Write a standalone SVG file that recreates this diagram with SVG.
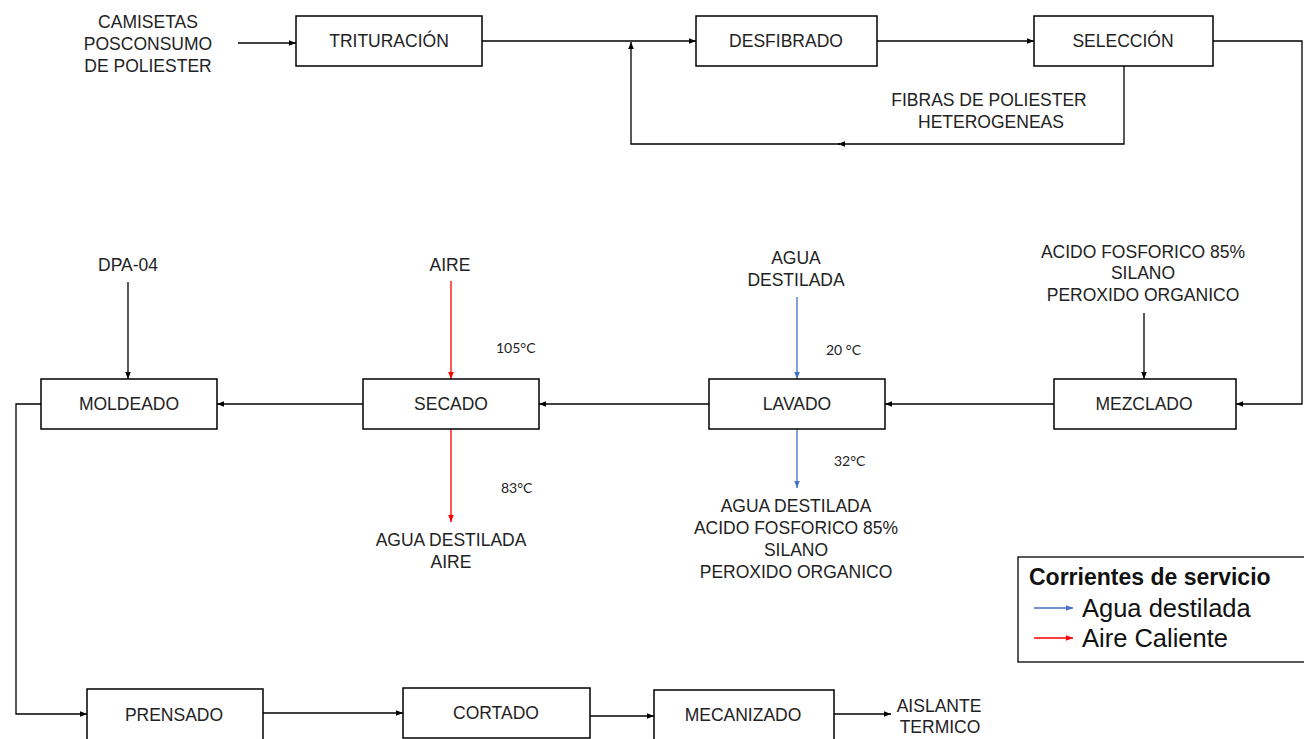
<svg xmlns="http://www.w3.org/2000/svg" width="1304" height="739" viewBox="0 0 1304 739">
<style>
.box{fill:#fff;stroke:#000;stroke-width:1.5}
.t{font-family:"Liberation Sans",Arial,sans-serif;font-size:17.5px;fill:#222;text-anchor:middle;dominant-baseline:central}
.tmp{font-family:Lato,"Liberation Sans",sans-serif;font-size:14px;fill:#222;dominant-baseline:central}
.k{fill:none;stroke:#000;stroke-width:1.3}
.r{fill:none;stroke:#ff0000;stroke-width:1.3}
.b{fill:none;stroke:#4472c4;stroke-width:1.3}
.lg{font-family:"Liberation Sans",Arial,sans-serif;fill:#111;dominant-baseline:central}
</style>
<defs>
<marker id="ak" viewBox="0 0 10 10" refX="10" refY="5" markerWidth="7" markerHeight="7" orient="auto" markerUnits="userSpaceOnUse"><path d="M0,1 L10,5 L0,9 z" fill="#000"/></marker>
<marker id="ar" viewBox="0 0 10 10" refX="10" refY="5" markerWidth="7" markerHeight="7" orient="auto" markerUnits="userSpaceOnUse"><path d="M0,1 L10,5 L0,9 z" fill="#ff0000"/></marker>
<marker id="ab" viewBox="0 0 10 10" refX="10" refY="5" markerWidth="7" markerHeight="7" orient="auto" markerUnits="userSpaceOnUse"><path d="M0,1 L10,5 L0,9 z" fill="#4472c4"/></marker>
</defs>

<g id="connectors">
<path class="k" d="M238,43 H296" marker-end="url(#ak)"/>
<path class="k" d="M482,41 H696" marker-end="url(#ak)"/>
<path class="k" d="M877,41 H1034" marker-end="url(#ak)"/>
<path class="k" d="M1213,41 H1302 V404 H1236" marker-end="url(#ak)"/>
<path class="k" d="M1124,66 V144 H838" marker-end="url(#ak)"/>
<path class="k" d="M840,144 H631 V42" marker-end="url(#ak)"/>
<path class="k" d="M1054,404 H885" marker-end="url(#ak)"/>
<path class="k" d="M709,404 H539" marker-end="url(#ak)"/>
<path class="k" d="M363,404 H217" marker-end="url(#ak)"/>
<path class="k" d="M128,282 V379" marker-end="url(#ak)"/>
<path class="k" d="M1144,313 V379" marker-end="url(#ak)"/>
<path class="r" d="M451,281 V379" marker-end="url(#ar)"/>
<path class="r" d="M451,429 V522" marker-end="url(#ar)"/>
<path class="b" d="M797,297 V379" marker-end="url(#ab)"/>
<path class="b" d="M797,429 V488" marker-end="url(#ab)"/>
<path class="k" d="M41,404 H16 V714 H87" marker-end="url(#ak)"/>
<path class="k" d="M263,713 H403" marker-end="url(#ak)"/>
<path class="k" d="M590,716 H654" marker-end="url(#ak)"/>
<path class="k" d="M834,714 H891" marker-end="url(#ak)"/>
</g>

<g id="n-camisetas"><text class="t" x="148" y="22">CAMISETAS</text><text class="t" x="148" y="44">POSCONSUMO</text><text class="t" x="148" y="66">DE POLIESTER</text></g>
<g id="n-trituracion"><rect class="box" x="296" y="16" width="186" height="50"/><text class="t" x="389" y="41">TRITURACIÓN</text></g>
<g id="n-desfibrado"><rect class="box" x="696" y="16" width="181" height="50"/><text class="t" x="786" y="41">DESFIBRADO</text></g>
<g id="n-seleccion"><rect class="box" x="1034" y="16" width="179" height="50"/><text class="t" x="1123" y="41">SELECCIÓN</text></g>
<g id="n-fibras"><text class="t" x="989" y="100">FIBRAS DE POLIESTER</text><text class="t" x="991" y="122">HETEROGENEAS</text></g>

<g id="n-dpa"><text class="t" x="128" y="265">DPA-04</text></g>
<g id="n-aire"><text class="t" x="450" y="265">AIRE</text><text class="tmp" x="496" y="347">105°C</text></g>
<g id="n-agua"><text class="t" x="796" y="258">AGUA</text><text class="t" x="796" y="280">DESTILADA</text><text class="tmp" x="826" y="349">20 °C</text></g>
<g id="n-aditivos"><text class="t" x="1143" y="252">ACIDO FOSFORICO 85%</text><text class="t" x="1143" y="273">SILANO</text><text class="t" x="1143" y="295">PEROXIDO ORGANICO</text></g>

<g id="n-moldeado"><rect class="box" x="41" y="379" width="176" height="50"/><text class="t" x="129" y="404">MOLDEADO</text></g>
<g id="n-secado"><rect class="box" x="363" y="379" width="176" height="50"/><text class="t" x="451" y="404">SECADO</text></g>
<g id="n-lavado"><rect class="box" x="709" y="379" width="176" height="50"/><text class="t" x="797" y="404">LAVADO</text></g>
<g id="n-mezclado"><rect class="box" x="1054" y="379" width="182" height="50"/><text class="t" x="1144" y="404">MEZCLADO</text></g>

<g id="n-sal-secado"><text class="tmp" x="501" y="487">83°C</text><text class="t" x="451" y="540">AGUA DESTILADA</text><text class="t" x="451" y="562">AIRE</text></g>
<g id="n-sal-lavado"><text class="tmp" x="834" y="460">32°C</text><text class="t" x="796" y="506">AGUA DESTILADA</text><text class="t" x="796" y="528">ACIDO FOSFORICO 85%</text><text class="t" x="796" y="550">SILANO</text><text class="t" x="796" y="572">PEROXIDO ORGANICO</text></g>

<g id="n-prensado"><rect class="box" x="87" y="689" width="176" height="60"/><text class="t" x="174" y="715">PRENSADO</text></g>
<g id="n-cortado"><rect class="box" x="403" y="688" width="187" height="50"/><text class="t" x="496" y="713">CORTADO</text></g>
<g id="n-mecanizado"><rect class="box" x="654" y="690" width="180" height="60"/><text class="t" x="743" y="715">MECANIZADO</text></g>
<g id="n-aislante"><text class="t" x="939" y="706">AISLANTE</text><text class="t" x="940" y="727">TERMICO</text></g>

<g id="legend">
<rect x="1018" y="557" width="290" height="105" fill="#fff" stroke="#000" stroke-width="1.3"/>
<text class="lg" x="1029" y="577" font-size="23" font-weight="bold">Corrientes de servicio</text>
<path class="b" d="M1034,608 H1073" marker-end="url(#ab)"/>
<text class="lg" x="1082" y="608" font-size="25.5">Agua destilada</text>
<path class="r" d="M1034,638 H1073" marker-end="url(#ar)"/>
<text class="lg" x="1082" y="638" font-size="25.5">Aire Caliente</text>
</g>
</svg>
